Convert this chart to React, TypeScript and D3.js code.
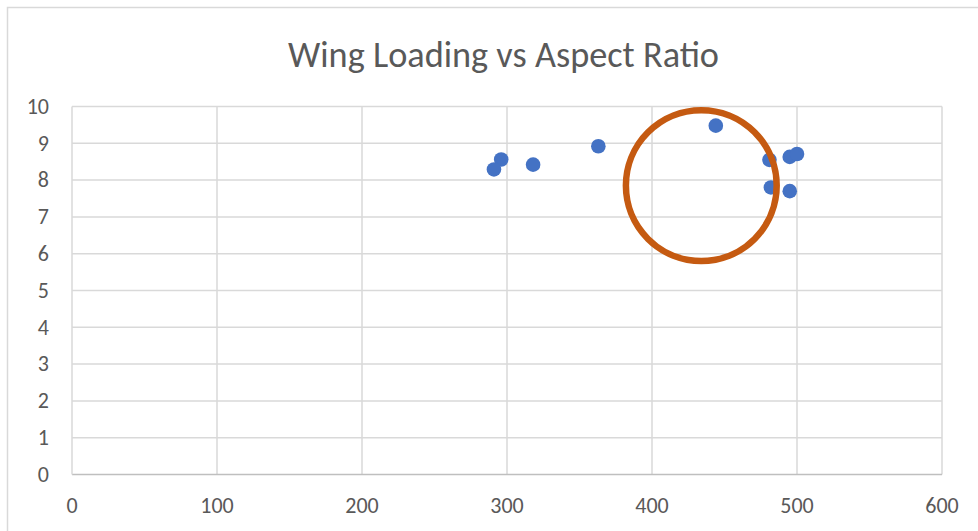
import React from "react";
import * as d3 from "d3";

const xTicks = [0, 100, 200, 300, 400, 500, 600];
const yTicks = [0, 1, 2, 3, 4, 5, 6, 7, 8, 9, 10];
const wingLoading = [444, 481, 495, 500, 482, 495, 363, 318, 296, 291];
const aspectRatio = [9.48, 8.55, 8.63, 8.71, 7.8, 7.7, 8.92, 8.42, 8.56, 8.29];
const annotationCenter = [434, 7.85];
const annotationRadiusX = 52;
const title = "Wing Loading vs Aspect Ratio";

const W = 978;
const H = 531;
const left = 72;
const right = 942;
const top = 106.5;
const bottom = 474.5;

export default function App() {
  const x = d3.scaleLinear().domain([0, 600]).range([left, right]);
  const y = d3.scaleLinear().domain([0, 10]).range([bottom, top]);
  const r = x(annotationCenter[0] + annotationRadiusX) - x(annotationCenter[0]);
  const font = "Calibri, Carlito, 'Open Sans', 'Liberation Sans', sans-serif";
  return (
    <svg width={W} height={H} style={{ position: "absolute", left: 0, top: 0 }} xmlns="http://www.w3.org/2000/svg">
      <rect x={0} y={0} width={W} height={H} fill="#fff" />
      <rect x={7.5} y={7.5} width={W + 10} height={H + 10} fill="none" stroke="#d9d9d9" strokeWidth={1.5} />
      <text x={503.5} y={66.5} textAnchor="middle" fontFamily={font} fontSize={37} fill="#595959" textLength={431} lengthAdjust="spacingAndGlyphs">{title}</text>
      {yTicks.filter((t) => t > 0).map((t) => (
        <line key={"gy" + t} x1={left} x2={right} y1={y(t)} y2={y(t)} stroke="#d9d9d9" strokeWidth={1.5} />
      ))}
      {xTicks.filter((t) => t > 0).map((t) => (
        <line key={"gx" + t} x1={x(t)} x2={x(t)} y1={top} y2={bottom} stroke="#d9d9d9" strokeWidth={1.5} />
      ))}
      <line x1={left} x2={right} y1={bottom} y2={bottom} stroke="#bfbfbf" strokeWidth={1.5} />
      <line x1={left} x2={left} y1={top} y2={bottom} stroke="#d9d9d9" strokeWidth={1.5} />
      {yTicks.map((t) => (
        <text key={"ly" + t} x={49} y={y(t) + 7.3} textAnchor="end" fontFamily={font} fontSize={22} fill="#595959">{t}</text>
      ))}
      {xTicks.map((t) => (
        <text key={"lx" + t} x={x(t)} y={513} textAnchor="middle" fontFamily={font} fontSize={22} fill="#595959">{t}</text>
      ))}
      {wingLoading.map((v, i) => (
        <circle key={"p" + i} cx={x(v)} cy={y(aspectRatio[i])} r={7.3} fill="#4472C4" />
      ))}
      <circle cx={x(annotationCenter[0])} cy={y(annotationCenter[1])} r={r} fill="none" stroke="#C55A11" strokeWidth={6.5} />
    </svg>
  );
}
